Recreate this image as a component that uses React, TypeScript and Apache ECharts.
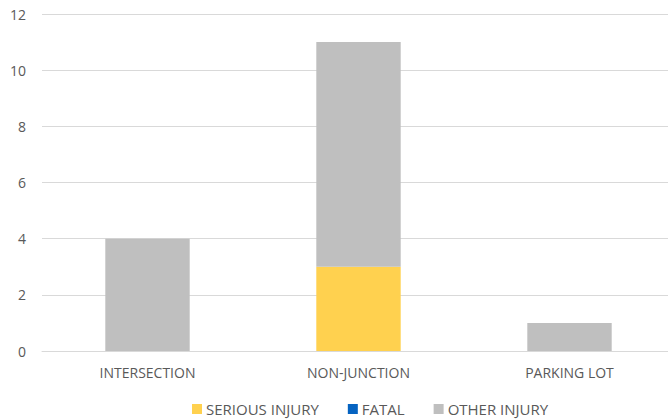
import React, { useEffect, useRef } from "react";
import * as echarts from "echarts";

const categories = ["INTERSECTION", "NON-JUNCTION", "PARKING LOT"];
const seriousInjury = [0, 3, 0];
const fatal = [0, 0, 0];
const otherInjury = [4, 8, 1];
const yTicks = { min: 0, max: 12, interval: 2 };

export default function App() {
  const ref = useRef<HTMLDivElement>(null);
  useEffect(() => {
    document.body.style.margin = "0";
    const chart = echarts.init(ref.current!, null, { renderer: "svg" });
    const font = "'Open Sans', 'Liberation Sans', sans-serif";
    chart.setOption({
      animation: false,
      textStyle: { fontFamily: font },
      grid: { left: 42, top: 14, width: 633, height: 337, containLabel: false, outerBoundsMode: "none" },
      legend: {
        left: 192,
        top: 401,
        padding: 0,
        itemWidth: 10,
        itemHeight: 10,
        itemGap: 29,
        icon: "rect",
        textStyle: { color: "#595959", fontSize: 15, lineHeight: 16, fontFamily: font, padding: [0, 0, 0, -1] },
        data: ["SERIOUS INJURY", "FATAL", "OTHER INJURY"],
      },
      xAxis: {
        type: "category",
        data: categories,
        axisLine: { lineStyle: { color: "#D9D9D9", width: 1 } },
        axisTick: { show: false },
        axisLabel: { color: "#595959", fontSize: 14, margin: 14, fontFamily: font },
      },
      yAxis: {
        type: "value",
        min: yTicks.min,
        max: yTicks.max,
        interval: yTicks.interval,
        axisLine: { show: false },
        axisTick: { show: false },
        splitLine: { lineStyle: { color: "#D9D9D9", width: 1 } },
        axisLabel: { color: "#595959", fontSize: 14, margin: 16, fontFamily: font },
      },
      series: [
        { name: "SERIOUS INJURY", type: "bar", stack: "a", data: seriousInjury, itemStyle: { color: "#FFD14F" }, barCategoryGap: "60%" },
        { name: "FATAL", type: "bar", stack: "a", data: fatal, itemStyle: { color: "#0563C1" }, barCategoryGap: "60%" },
        { name: "OTHER INJURY", type: "bar", stack: "a", data: otherInjury, itemStyle: { color: "#BFBFBF" }, barCategoryGap: "60%" },
      ],
    });
    return () => chart.dispose();
  }, []);
  return <div ref={ref} style={{ width: 668, height: 419 }} />;
}
